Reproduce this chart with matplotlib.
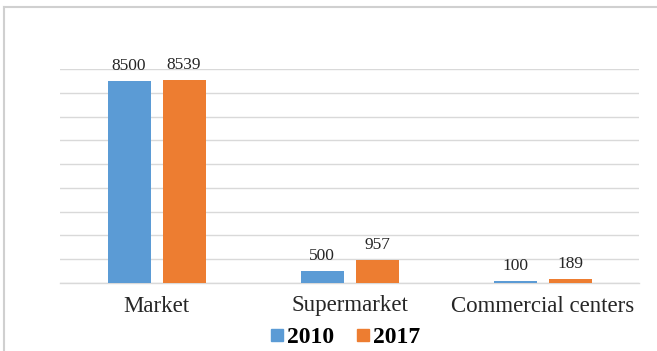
import matplotlib
matplotlib.use("Agg")
import matplotlib.pyplot as plt
from matplotlib.lines import Line2D
import numpy as np

categories = ["Market", "Supermarket", "Commercial centers"]
series_names = ["2010", "2017"]
values_2010 = [8500, 500, 100]
values_2017 = [8539, 957, 189]

BLUE = "#5B9BD5"
ORANGE = "#ED7D31"
TEXT = "#262626"
GRID = "#D9D9D9"

plt.rcParams["font.family"] = ["Liberation Serif", "DejaVu Serif"]

W, H = 657, 351
fig = plt.figure(figsize=(W / 100, H / 100), dpi=100)
ax = fig.add_axes([60 / W, 1 - 283 / H, 579 / W, 214 / H])

x = np.arange(len(categories))
bw = 43 / 193
off = 27.5 / 193
b1 = ax.bar(x - off, values_2010, bw, color=BLUE, zorder=3)
b2 = ax.bar(x + off, values_2017, bw, color=ORANGE, zorder=3)
ax.bar_label(b1, padding=5, fontsize=12.5, color=TEXT)
ax.bar_label(b2, padding=5, fontsize=12.5, color=TEXT)

ax.set_xlim(-0.5, len(categories) - 0.5)
ax.set_ylim(0, 9000)
ax.set_yticks(np.arange(0, 9001, 1000))
ax.yaxis.grid(True, color=GRID, lw=1, zorder=0)
ax.tick_params(axis="y", left=False, labelleft=False)
ax.set_xticks(x)
ax.set_xticklabels(categories, fontsize=16.5, color=TEXT)
ax.tick_params(axis="x", length=0, pad=9)
for s in ["top", "right", "left"]:
    ax.spines[s].set_visible(False)
ax.spines["bottom"].set_color(GRID)
ax.spines["bottom"].set_linewidth(1)

handles = [Line2D([], [], marker="s", linestyle="none", markersize=8.6, color=c)
           for c in (BLUE, ORANGE)]
fig.legend(handles, series_names, loc="center", bbox_to_anchor=(345 / W, 1 - 337 / H),
           ncol=2, frameon=False, handlelength=0.6, handletextpad=0.15,
           columnspacing=0.9, borderpad=0, borderaxespad=0,
           prop={"family": "Liberation Serif", "weight": "bold", "size": 17})

# outer frame (partial, as in reference)
fig.add_artist(Line2D([3.5 / W, 3.5 / W], [0, 1 - 7 / H], transform=fig.transFigure,
                      color="#D0D0D0", lw=1.5))
fig.add_artist(Line2D([3.5 / W, 1], [1 - 7 / H, 1 - 7 / H], transform=fig.transFigure,
                      color="#D0D0D0", lw=1.5))

fig.savefig("out.png", dpi=100)
